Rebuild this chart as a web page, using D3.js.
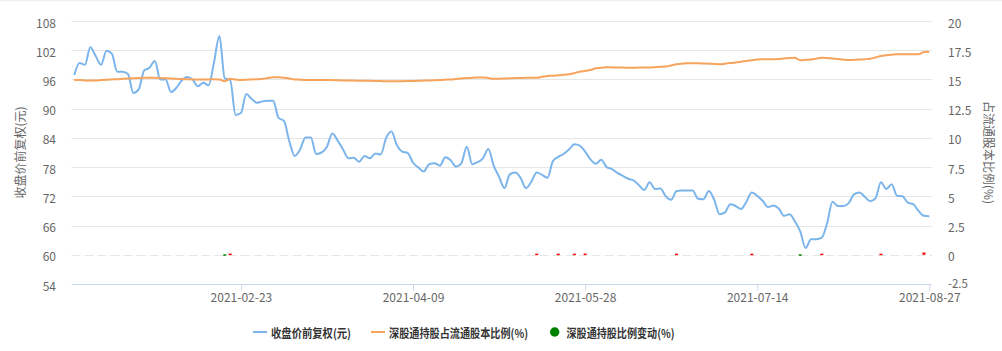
<!DOCTYPE html>
<html>
<head>
<meta charset="utf-8">
<script src="https://cdn.jsdelivr.net/npm/d3@7"></script>
<style>
  body { margin: 0; background: #fff; }
  svg { display: block; font-family: "Noto Sans CJK SC", "DejaVu Sans", sans-serif; }
</style>
</head>
<body>
<script>
const dates = [
    '2021-01-04','2021-01-05','2021-01-06','2021-01-07','2021-01-08','2021-01-11','2021-01-12','2021-01-13','2021-01-14','2021-01-15',
    '2021-01-18','2021-01-19','2021-01-20','2021-01-21','2021-01-22','2021-01-25','2021-01-26','2021-01-27','2021-01-28','2021-01-29',
    '2021-02-01','2021-02-02','2021-02-03','2021-02-04','2021-02-05','2021-02-08','2021-02-09','2021-02-10','2021-02-18','2021-02-19',
    '2021-02-22','2021-02-23','2021-02-24','2021-02-25','2021-02-26','2021-03-01','2021-03-02','2021-03-03','2021-03-04','2021-03-05',
    '2021-03-08','2021-03-09','2021-03-10','2021-03-11','2021-03-12','2021-03-15','2021-03-16','2021-03-17','2021-03-18','2021-03-19',
    '2021-03-22','2021-03-23','2021-03-24','2021-03-25','2021-03-26','2021-03-29','2021-03-30','2021-03-31','2021-04-01','2021-04-02',
    '2021-04-06','2021-04-07','2021-04-08','2021-04-09','2021-04-12','2021-04-13','2021-04-14','2021-04-15','2021-04-16','2021-04-19',
    '2021-04-20','2021-04-21','2021-04-22','2021-04-23','2021-04-26','2021-04-27','2021-04-28','2021-04-29','2021-04-30','2021-05-06',
    '2021-05-07','2021-05-10','2021-05-11','2021-05-12','2021-05-13','2021-05-14','2021-05-17','2021-05-18','2021-05-19','2021-05-20',
    '2021-05-21','2021-05-24','2021-05-25','2021-05-26','2021-05-27','2021-05-28','2021-05-31','2021-06-01','2021-06-02','2021-06-03',
    '2021-06-04','2021-06-07','2021-06-08','2021-06-09','2021-06-10','2021-06-11','2021-06-15','2021-06-16','2021-06-17','2021-06-18',
    '2021-06-21','2021-06-22','2021-06-23','2021-06-24','2021-06-25','2021-06-28','2021-06-29','2021-06-30','2021-07-01','2021-07-02',
    '2021-07-05','2021-07-06','2021-07-07','2021-07-08','2021-07-09','2021-07-12','2021-07-13','2021-07-14','2021-07-15','2021-07-16',
    '2021-07-19','2021-07-20','2021-07-21','2021-07-22','2021-07-23','2021-07-26','2021-07-27','2021-07-28','2021-07-29','2021-07-30',
    '2021-08-02','2021-08-03','2021-08-04','2021-08-05','2021-08-06','2021-08-09','2021-08-10','2021-08-11','2021-08-12','2021-08-13',
    '2021-08-16','2021-08-17','2021-08-18','2021-08-19','2021-08-20','2021-08-23','2021-08-24','2021-08-25','2021-08-26','2021-08-27'
];

// 收盘价前复权(元)
const closePrice = [
    96.9, 99.4, 99.0, 102.6, 100.8, 99.0, 101.9, 101.3, 97.6, 97.6,
    97.1, 93.2, 94.0, 97.8, 98.4, 99.8, 96.0, 96.0, 93.4, 94.3,
    95.8, 96.5, 96.0, 94.6, 95.3, 94.8, 99.5, 104.9, 96.2, 95.9,
    88.7, 89.1, 93.0, 92.0, 91.2, 91.5, 91.6, 91.6, 88.1, 87.5,
    83.3, 80.3, 81.6, 84.1, 84.1, 80.7, 81.0, 82.2, 84.9, 83.4,
    81.6, 79.8, 79.9, 79.1, 80.3, 79.8, 80.8, 80.6, 84.0, 85.3,
    82.5, 81.2, 80.9, 78.9, 77.9, 77.1, 78.6, 78.8, 78.3, 80.0,
    79.4, 78.1, 78.8, 82.2, 78.6, 79.0, 79.8, 81.7, 78.3, 76.0,
    73.7, 76.5, 76.9, 75.8, 73.7, 75.0, 76.9, 76.4, 75.8, 79.2,
    80.1, 80.7, 81.6, 82.7, 82.4, 81.2, 79.6, 78.7, 79.5, 78.0,
    77.6, 76.8, 76.2, 75.6, 75.3, 74.3, 73.3, 74.9, 73.5, 73.6,
    72.0, 71.3, 73.1, 73.2, 73.2, 73.2, 71.5, 71.4, 73.1, 71.3,
    68.3, 68.7, 70.4, 70.0, 69.4, 70.9, 72.8, 72.1, 71.1, 69.8,
    70.1, 69.5, 68.0, 68.3, 66.9, 64.8, 61.4, 63.2, 63.2, 63.5,
    66.5, 70.9, 70.0, 70.0, 70.6, 72.4, 72.8, 71.9, 71.0, 71.6,
    74.9, 73.5, 74.5, 72.1, 72.0, 70.7, 70.4, 69.0, 68.0, 67.9
];

// 深股通持股占流通股本比例(%)
const holdRatio = [
    14.95, 14.95, 14.92, 14.90, 14.92, 14.95, 14.98, 15.00, 15.02, 15.05,
    15.08, 15.10, 15.12, 15.15, 15.15, 15.14, 15.12, 15.10, 15.08, 15.05,
    15.03, 15.02, 15.00, 15.00, 15.00, 15.00, 15.02, 15.00, 14.85, 15.05,
    15.00, 14.95, 14.97, 15.00, 15.02, 15.05, 15.12, 15.18, 15.18, 15.15,
    15.08, 15.00, 14.98, 14.95, 14.95, 14.95, 14.95, 14.95, 14.95, 14.93,
    14.92, 14.90, 14.90, 14.89, 14.88, 14.88, 14.87, 14.86, 14.85, 14.85,
    14.84, 14.85, 14.86, 14.87, 14.88, 14.90, 14.92, 14.94, 14.96, 14.98,
    15.00, 15.04, 15.08, 15.12, 15.15, 15.16, 15.17, 15.12, 15.05, 15.06,
    15.08, 15.10, 15.12, 15.13, 15.14, 15.14, 15.15, 15.22, 15.30, 15.32,
    15.35, 15.40, 15.45, 15.55, 15.65, 15.72, 15.80, 15.95, 16.00, 16.05,
    16.03, 16.03, 16.02, 16.00, 16.00, 16.02, 16.02, 16.02, 16.05, 16.08,
    16.10, 16.20, 16.30, 16.35, 16.38, 16.38, 16.38, 16.36, 16.35, 16.32,
    16.30, 16.35, 16.40, 16.45, 16.52, 16.58, 16.65, 16.70, 16.72, 16.72,
    16.72, 16.75, 16.80, 16.83, 16.85, 16.65, 16.68, 16.70, 16.78, 16.85,
    16.83, 16.80, 16.75, 16.70, 16.66, 16.68, 16.70, 16.73, 16.77, 16.88,
    17.00, 17.07, 17.12, 17.15, 17.15, 17.15, 17.15, 17.15, 17.35, 17.37
];

// 深股通持股比例变动(%) - only the days with a visible change
const changeDates = ['2021-02-18','2021-02-19','2021-05-17','2021-05-21','2021-05-26','2021-05-28',
    '2021-06-23','2021-07-13','2021-07-26','2021-07-30','2021-08-16','2021-08-26'];
const changeValues = [-0.05, 0.06, 0.05, 0.05, 0.05, 0.06, 0.05, 0.05, -0.05, 0.05, 0.05, 0.15];

const xTickLabels = ['2021-02-23','2021-04-09','2021-05-28','2021-07-14','2021-08-27'];
const leftTicks = [54, 60, 66, 72, 78, 84, 90, 96, 102, 108];
const rightTicks = [-2.5, 0, 2.5, 5, 7.5, 10, 12.5, 15, 17.5, 20];

const seriesNames = ['收盘价前复权(元)', '深股通持股占流通股本比例(%)', '深股通持股比例变动(%)'];
const seriesColors = ['#7cb5ec', '#f7a35c', '#008000'];

function plot()
{
    const W = 1002, H = 351;
    const left = 71.5, right = 932, top = 21, bottom = 284;

    const svg = d3.select('body').append('svg')
        .attr('width', W)
        .attr('height', H);

    svg.append('rect')
        .attr('x', 0).attr('y', 0)
        .attr('width', W).attr('height', 1.5)
        .attr('fill', '#f0f0f0');

    const x = d3.scalePoint()
        .domain(dates)
        .range([left, right])
        .padding(0.5);
    const yL = d3.scaleLinear().domain([54, 108]).range([bottom, top]);
    const yR = d3.scaleLinear().domain([-2.5, 20]).range([bottom, top]);

    // grid
    const grid = svg.append('g');
    grid.selectAll('line')
        .data(leftTicks.filter(d => d !== 54))
        .enter().append('line')
        .attr('x1', left).attr('x2', right)
        .attr('y1', d => Math.round(yL(d)) + 0.5)
        .attr('y2', d => Math.round(yL(d)) + 0.5)
        .attr('stroke', '#e6e6e6')
        .attr('stroke-dasharray', d => d === 60 ? '9,4' : null);

    // x axis
    const xAxis = d3.axisBottom(x)
        .tickValues(xTickLabels)
        .tickSize(6)
        .tickSizeOuter(0);
    const gx = svg.append('g')
        .attr('transform', `translate(0,${bottom + 0.5})`)
        .call(xAxis);
    gx.select('.domain').attr('stroke', '#ccd6eb').attr('d', `M${left},0H${right}`);
    gx.selectAll('.tick line').attr('stroke', '#ccd6eb');
    gx.selectAll('.tick text')
        .attr('fill', '#666')
        .attr('font-size', 12)
        .attr('font-family', '"Noto Sans CJK SC", sans-serif')
        .attr('y', 9);

    // left axis labels
    svg.append('g').selectAll('text')
        .data(leftTicks)
        .enter().append('text')
        .attr('x', 56)
        .attr('y', d => yL(d) + 1)
        .attr('text-anchor', 'end')
        .attr('dominant-baseline', 'central')
        .attr('font-size', 12)
        .attr('fill', '#666')
        .text(d => d);

    // right axis labels
    svg.append('g').selectAll('text')
        .data(rightTicks)
        .enter().append('text')
        .attr('x', 948)
        .attr('y', d => yR(d) + (d === -2.5 ? -1 : 1))
        .attr('dominant-baseline', 'central')
        .attr('font-size', d => d === -2.5 ? 11.5 : 12)
        .attr('fill', '#666')
        .text(d => d);

    // axis titles
    svg.append('text')
        .attr('transform', `translate(19,${(top + bottom) / 2}) rotate(-90)`)
        .attr('text-anchor', 'middle')
        .attr('dominant-baseline', 'central')
        .attr('font-size', 12)
        .attr('fill', '#666')
        .text(seriesNames[0]);
    svg.append('text')
        .attr('transform', `translate(989,${(top + bottom) / 2}) rotate(90)`)
        .attr('text-anchor', 'middle')
        .attr('dominant-baseline', 'central')
        .attr('font-size', 12)
        .attr('fill', '#666')
        .text('占流通股本比例(%)');

    // lines
    const priceLine = d3.line()
        .x((d, i) => x(dates[i]))
        .y(d => yL(d))
        .curve(d3.curveMonotoneX);
    svg.append('path')
        .attr('d', priceLine(closePrice))
        .attr('fill', 'none')
        .attr('stroke', seriesColors[0])
        .attr('stroke-width', 2)
        .attr('stroke-linejoin', 'round');

    const ratioLine = d3.line()
        .x((d, i) => x(dates[i]))
        .y(d => yR(d))
        .curve(d3.curveMonotoneX);
    svg.append('path')
        .attr('d', ratioLine(holdRatio))
        .attr('fill', 'none')
        .attr('stroke', seriesColors[1])
        .attr('stroke-width', 2)
        .attr('stroke-linejoin', 'round');

    // change marks
    svg.append('g').selectAll('rect')
        .data(changeValues)
        .enter().append('rect')
        .attr('x', (d, i) => x(changeDates[i]) - 1.5)
        .attr('width', 3)
        .attr('y', d => Math.min(yR(d), yR(0)) - 0.5)
        .attr('height', d => Math.max(1.5, Math.abs(yR(d) - yR(0)) + 0.5))
        .attr('fill', d => d >= 0 ? '#ff0000' : '#008000');

    // legend: symbol start x, text start x, text width
    const legendPos = [[253, 271, 80], [371, 389, 139], [550, 566.5, 108]];
    const legend = svg.append('g').attr('transform', 'translate(0,332)');
    seriesNames.forEach((name, i) => {
        const [sx, tx, tw] = legendPos[i];
        const item = legend.append('g');
        if (i < 2) {
            item.append('line')
                .attr('x1', sx).attr('x2', sx + 14)
                .attr('y1', 0).attr('y2', 0)
                .attr('stroke', seriesColors[i])
                .attr('stroke-width', 2);
        } else {
            item.append('circle')
                .attr('cx', sx + 4.7).attr('cy', 0)
                .attr('r', 4.7)
                .attr('fill', seriesColors[i]);
        }
        item.append('text')
            .attr('x', tx)
            .attr('y', 0)
            .attr('dominant-baseline', 'central')
            .attr('font-size', 12)
            .attr('font-weight', 'bold')
            .attr('fill', '#333')
            .attr('textLength', tw)
            .attr('lengthAdjust', 'spacingAndGlyphs')
            .text(name);
    });
}

plot();
</script>
</body>
</html>
